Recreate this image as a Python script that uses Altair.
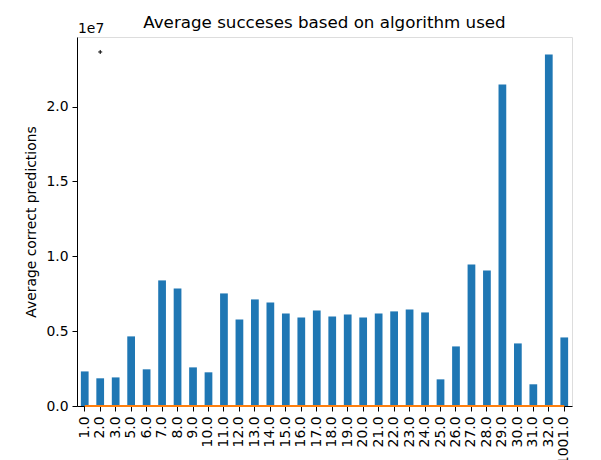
import altair as alt
import pandas as pd

categories = ["1.0", "2.0", "3.0", "5.0", "6.0", "7.0", "8.0", "9.0", "10.0", "11.0",
              "12.0", "13.0", "14.0", "15.0", "16.0", "17.0", "18.0", "19.0", "20.0",
              "21.0", "22.0", "23.0", "24.0", "25.0", "26.0", "27.0", "28.0", "29.0",
              "30.0", "31.0", "32.0", "1001.0"]
avg_correct = [2.31e6, 1.85e6, 1.91e6, 4.65e6, 2.45e6, 8.39e6, 7.85e6, 2.58e6, 2.25e6, 7.52e6,
               5.78e6, 7.12e6, 6.92e6, 6.18e6, 5.92e6, 6.38e6, 5.98e6, 6.12e6, 5.92e6,
               6.18e6, 6.32e6, 6.45e6, 6.25e6, 1.78e6, 3.98e6, 9.45e6, 9.05e6, 2.148e7,
               4.18e6, 1.45e6, 2.348e7, 4.58e6]
second_series = [0, 0, 0, 0, 0, 0, 0, 0, 0, 0, 0, 0, 0, 0, 0, 0,
                 0, 0, 0, 0, 0, 0, 0, 0, 0, 0, 0, 0, 0, 0, 0, 0]
marker_cat = ["2.0"]
marker_val = [2.365e7]
title_text = ["Average succeses based on algorithm used"]
exponent_text = ["1e7"]

df = pd.DataFrame({"cat": categories, "val": avg_correct, "val2": second_series})
dm = pd.DataFrame({"cat": marker_cat, "val": marker_val})

FONT = "DejaVu Sans"

xscale = alt.Scale(domain=categories, paddingInner=0.5, paddingOuter=0.25)
yscale = alt.Scale(domain=[0, 2.465e7], nice=False, zero=True)

x_enc = alt.X("cat:N", scale=xscale, sort=None,
              axis=alt.Axis(title="algorithm", labelAngle=270, labelAlign="right",
                            labelBaseline="middle", labelPadding=5, tickSize=5,
                            labelFontSize=13.9, titleFontSize=13.9, titlePadding=8,
                            labelColor="black", tickColor="black", domainColor="black",
                            titleColor="black", titleFontWeight="normal", labelFont=FONT,
                            titleFont=FONT, grid=False))
y_axis = alt.Axis(title="Average correct predictions", values=[0, 5e6, 1e7, 1.5e7, 2e7],
                  labelExpr="format(datum.value / 1e7, '.1f')", tickSize=5, labelPadding=4,
                  labelFontSize=13.9, titleFontSize=13.9, titlePadding=7,
                  labelColor="black", tickColor="black", domainColor="black",
                  titleColor="black", titleFontWeight="normal", labelFont=FONT,
                  titleFont=FONT, grid=False)

bars = alt.Chart(df).mark_bar(color="#1f77b4").encode(
    x=x_enc,
    y=alt.Y("val:Q", scale=yscale, axis=y_axis),
)

line = alt.Chart(df).mark_line(color="#ff7f0e", strokeWidth=2).encode(
    x=alt.X("cat:N", scale=xscale, sort=None),
    y=alt.Y("val2:Q", scale=yscale),
)

marker = alt.Chart(dm).mark_point(shape="M-1,0L1,0M0,-1L0,1", size=16, filled=False,
                                  color="black", strokeWidth=1, opacity=1).encode(
    x=alt.X("cat:N", scale=xscale, sort=None),
    y=alt.Y("val:Q", scale=yscale),
)

exp_label = alt.Chart(pd.DataFrame({"t": exponent_text})).mark_text(
    font=FONT, fontSize=13.9, align="left", baseline="alphabetic", color="black"
).encode(x=alt.value(1), y=alt.value(-4), text="t:N")

title_mark = alt.Chart(pd.DataFrame({"t": title_text})).mark_text(
    font=FONT, fontSize=16.7, align="center", baseline="alphabetic", color="black"
).encode(x=alt.value(247.5), y=alt.value(-9), text="t:N")

chart = alt.layer(bars, line, marker, exp_label, title_mark).properties(
    width=495, height=369,
    autosize=alt.AutoSizeParams(type="none"),
    padding={"left": 69, "top": 29, "right": 21, "bottom": 70},
).configure_view(stroke="black", strokeWidth=1).configure(background="white")

chart.save("out.html", embed_options={"renderer": "svg", "actions": False})
